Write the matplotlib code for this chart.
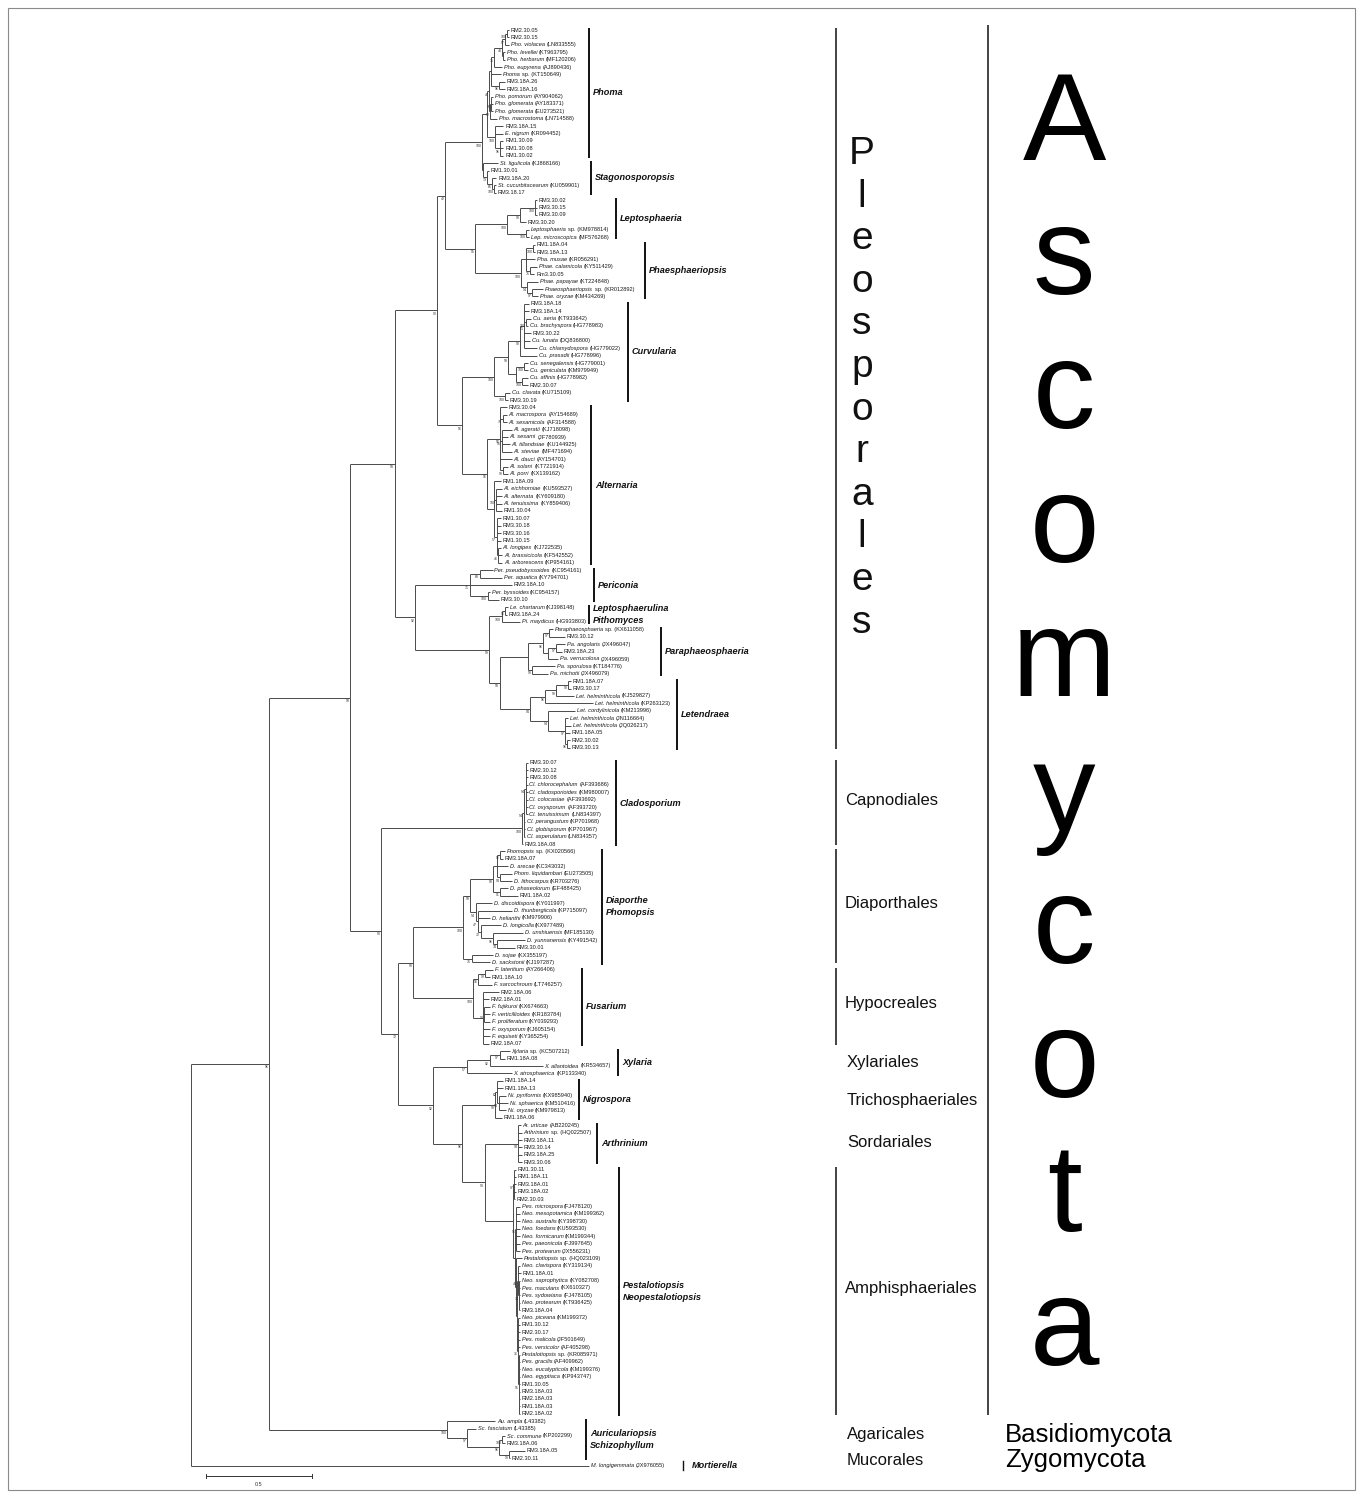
import matplotlib
matplotlib.use("Agg")
import matplotlib.pyplot as plt
from matplotlib.collections import LineCollection
from matplotlib.patches import Rectangle

plt.rcParams['font.family'] = ['Liberation Sans', 'DejaVu Sans']

# ---------------- data: clades (Newick, branch lengths in substitutions/site, node label = bootstrap) ----
PHOMA = ("((((("
         "(('RM2.30.05':0.009,'RM2.30.15':0.009)100:0.009,'Pho. violacea (LN833555)':0.019)97:0.014,"
         "('Pho. levellei (KT963795)':0.009,'Pho. herbarum (MF120206)':0.009):0.005)48:0.038,"
         "'Pho. eupyrena (AJ890436)':0.038)75:0.014,"
         "'Phoma sp. (KT150649)':0.047,"
         "('RM3.18A.26':0.028,'RM3.18A.16':0.028)96:0.038):0.009,"
         "(('Pho. pomorum (AY904062)':0.009,'Pho. glomerata (AY183371)':0.009,'Pho. glomerata (EU273521)':0.009)99:0.005,"
         "'Pho. macrostoma (LN714588)':0.033)52:0.005)46:0.009,"
         "('RM3.18A.15':0.038,'E. nigrum (KR094452)':0.038,"
         "('RM1.30.09':0.014,'RM1.30.08':0.014,'RM1.30.02':0.014)96:0.024)100:0.038):0.024")
STAGO = ("('St. ligulicola (KJ868166)':0.071,('RM1.30.01':0.009,('RM3.18A.20':0.019,"
         "('St. cucurbitacearum (KU059901)':0.009,'RM3.18.17':0.009)100:0.009)65:0.024)73:0.019):0.005")
LEPTO = ("((('RM3.30.02':0.009,'RM3.30.15':0.009,'RM3.30.09':0.009)100:0.071,'RM3.30.20':0.028)99:0.061,"
         "('Leptosphaeria sp. (KM978814)':0.014,'Lep. microscopica (MF576268)':0.014)100:0.090)100:0.151")
PHAE = ("((('RM1.18A.04':0.009,'RM3.18A.13':0.009)100:0.033,'Pha. musae (KR056291)':0.042,"
        "('Phae. calamicola (KY511429)':0.033,'Rm3.30.05':0.019)75:0.019):0.024,"
        "('Phae. papayae (KT224848)':0.052,('Phaeosphaeriopsis sp. (KR012892)':0.052,"
        "'Phae. oryzae (KM434269)':0.028)97:0.024)54:0.028)100:0.217")
CURV = ("(((('RM3.18A.18':0.024,'RM3.18A.14':0.024,('Cu. aeria (KT933642)':0.024,"
        "'Cu. brachyspora (HG778983)':0.009)100:0.009,'RM3.30.22':0.033,'Cu. lunata (DQ836800)':0.028,"
        "'Cu. chlamydospora (HG779022)':0.061)71:0.019,'Cu. prasadii (HG778996)':0.080)98:0.057,"
        "(('Cu. senegalensis (HG779001)':0.019,'Cu. geniculata (KM979949)':0.019)100:0.038,"
        "('Cu. affinis (HG778982)':0.028,'RM2.30.07':0.028)100:0.028):0.038)59:0.066,"
        "('Cu. clavata (KU715109)':0.024,'RM3.30.19':0.014)100:0.052)100:0.151")
ALT = ("(('RM3.30.04':0.033,('Al. macrospora (AY154689)':0.019,'Al. sesamicola (AF314588)':0.019)75:0.014,"
       "('Al. ageratii (KJ718098)':0.047,'Al. sesami (JF780939)':0.028,'Al. tillandsiae (KU144925)':0.038,"
       "'Al. steviae (MF471694)':0.047)95:0.009,'Al. dauci (AY154701)':0.057,"
       "('Al. solani (KT721914)':0.024,'Al. porri (KX139162)':0.024)99:0.014)56:0.061,"
       "('RM1.18A.09':0.033,('Al. eichhorniae (KU593527)':0.028,'Al. alternata (KY609180)':0.028,"
       "'Al. tenuissima (KY859406)':0.028,'RM1.30.04':0.028)100:0.009,"
       "('RM1.30.07':0.019,'RM3.30.18':0.019,'RM3.30.16':0.019,'RM1.30.15':0.019,"
       "('Al. longipes (KJ722535)':0.014,'Al. brassicicola (KF542552)':0.019,"
       "'Al. arborescens (KP954161)':0.019)46:0.005)57:0.014):0.033)56:0.118")
PERI = ("(('Per. pseudobyssoides (KC954161)':0.061,'Per. aquatica (KY794701)':0.104)68:0.047,"
        "'RM3.18A.10':0.198,('Per. byssoides (KC954157)':0.009,'RM3.30.10':0.052)100:0.085)71:0.259")
LEPTOSPH = ("(('Le. chartarum (KJ398148)':0.014,'RM3.18A.24':0.009)96:0.014,"
            "'Pi. maydicus (HG933803)':0.085)100:0.061")
PARA = ("((('Paraphaeosphaeria sp. (KX611058)':0.019,'RM3.30.12':0.075)97:0.028,"
        "(('Pa. angolaris (JX496047)':0.042,'RM3.18A.23':0.028)97:0.038,'Pa. verrucolosa (JX496059)':0.047):0.024)96:0.071,"
        "('Pa. sporulosa (KT184776)':0.108,'Pa. michotii (JX496079)':0.075)99:0.019):0.132")
LET = ("(((('RM1.18A.07':0.014,'RM3.30.17':0.014)98:0.057,'Let. helminthicola (KJ529827)':0.085)99:0.052,"
       "'Let. helminthicola (KP263123)':0.226)96:0.071,('Let. cordylinicola (KM213996)':0.127,"
       "('Let. helminthicola (JN116664)':0.014,'Let. helminthicola (JQ026217)':0.028,'RM1.18A.05':0.024,"
       "('RM2.30.02':0.014,'RM3.30.13':0.014)96:0.009)97:0.080)54:0.085)94:0.142")
CLADO = ("((('RM3.30.07':0.009,'RM2.30.12':0.009,'RM3.30.08':0.009,'Cl. chlorocephalum (AF393686)':0.009,"
         "'Cl. cladosporioides (KM980007)':0.009,'Cl. colocasiae (AF393692)':0.009,'Cl. oxysporum (AF393720)':0.009,"
         "'Cl. tenuissimum (LN834397)':0.009)54:0.009,'Cl. perangustum (KP701968)':0.005,"
         "'Cl. globisporum (KP701967)':0.005,'Cl. asperulatum (LN834357)':0.005)54:0.009,'RM3.18A.08':0.005)100:0.665")
DIAP = ("((((('Phomopsis sp. (KX020566)':0.024,'RM3.18A.07':0.014)96:0.014,'D. arecae (KC343032)':0.052,"
        "('Phom. liquidambari (EU273505)':0.057,'D. lithocarpus (KR703276)':0.057)94:0.014):0.019,"
        "('D. phaseolorum (EF488425)':0.038,'RM1.18A.02':0.085)91:0.033)99:0.108,"
        "('D. discoidispora (KY011997)':0.075,('D. thunbergiicola (KP715097)':0.160,'D. helianthi (KM979906)':0.057,"
        "('D. longicolla (KX977489)':0.094,('D. unshiuensis (MF185130)':0.142,('D. yunnanensis (KY491542)':0.132,"
        "'RM3.30.01':0.085)74:0.019)96:0.057)72:0.014)47:0.009)54:0.028)58:0.033,"
        "('D. sojae (KX355197)':0.099,'D. sackstonii (KJ197287)':0.085)75:0.042)100:0.236")
FUS = ("((('F. lateritium (AY266406)':0.038,'RM1.18A.10':0.024)93:0.033,'F. sarcochroum (LT746257)':0.066)56:0.024,"
       "('RM2.18A.06':0.075,'RM2.18A.01':0.028,('F. fujikuroi (KX674663)':0.028,'F. verticillioides (KR183784)':0.028,"
       "'F. proliferatum (KY039293)':0.028)93:0.005,'F. oxysporum (KJ605154)':0.033,'F. equiseti (KY365254)':0.033,"
       "'RM2.18A.07':0.028):0.047)100:0.283")
XYL = ("((('Xylaria sp. (KC507212)':0.047,'RM1.18A.08':0.024)97:0.047,'X. allantoidea (KR534657)':0.250)92:0.108,"
       "'X. atrosphaerica (KP133340)':0.212)57:0.160")
NIG = ("(('RM1.18A.14':0.028,'RM1.18A.13':0.028,('Ni. pyriformis (KX985940)':0.033,'Ni. sphaerica (KM510416)':0.042,"
       "'Ni. oryzae (KM979813)':0.033)54:0.009)62:0.009,'RM1.18A.06':0.033)99:0.156")
ART = ("('Ar. urticae (AB220245)':0.014,'Arthrinium sp. (HQ022507)':0.019,'RM3.18A.11':0.019,'RM3.30.14':0.019,"
       "'RM3.18A.25':0.019,'RM3.30.06':0.019)94:0.156")
PEST = ("(('RM1.30.11':0.009,'RM1.18A.11':0.009,'RM3.18A.01':0.009,'RM3.18A.02':0.009,'RM2.30.03':0.005)97:0.005,"
        "(('Pes. microspora (FJ478120)':0.019,'Neo. mesopotamica (KM199362)':0.019,'Neo. australis (KY398730)':0.019,"
        "'Neo. foedans (KU593530)':0.019,'Neo. formicarum (KM199344)':0.019,'Pes. paeonicola (FJ997645)':0.019,"
        "'Pes. protearum (JX556231)':0.019)96:0.005,('Pestalotiopsis sp. (HQ023109)':0.028,"
        "(('Neo. clavispora (KY319134)':0.009,'RM1.18A.01':0.014,('Neo. saprophytica (KY082708)':0.005,"
        "'Pes. maculans (KX610327)':0.005,'Pes. sydowiana (FJ478105)':0.005,'Neo. protearum (KT936425)':0.005,"
        "'RM3.18A.04':0.005)75:0.005)41:0.005,('Neo. piceana (KM199372)':0.009,'RM1.30.12':0.009,'RM2.30.17':0.009,"
        "'Pes. malicola (JF501649)':0.009,'Pes. versicolor (AF405298)':0.009,('Pestalotiopsis sp. (KR085971)':0.005,"
        "'Pes. gracilis (AF409962)':0.005,'Neo. eucalypticola (KM199376)':0.005,'Neo. egyptiaca (KP943747)':0.005,"
        "'RM1.30.05':0.005,'RM3.18A.03':0.005,'RM2.18A.03':0.005,'RM1.18A.03':0.005,'RM2.18A.02':0.005)95:0.005)36:0.005"
        "):0.005):0.005):0.009):0.132")
BASIDIO = ("('Au. ampla (L43382)':0.226,('Sc. fasciatum (L43385)':0.042,(('Sc. commune (KP202299)':0.014,"
           "'RM3.18A.06':0.014)100:0.014,('RM3.18A.05':0.075,'RM2.30.11':0.005)93:0.047)96:0.151)97:0.094)100:0.840")
MORT = "'M. longigemmata (JX976055)':1.877"

# backbone
P_TOP = ("(((" + PHOMA + "," + STAGO + ")100:0.175,(" + LEPTO + "," + PHAE + ")95:0.142)42:0.038,("
         + CURV + "," + ALT + ")56:0.118)93:0.198")
P_BOT = "(" + PERI + ",(" + LEPTOSPH + ",(" + PARA + "," + LET + ")50:0.052)99:0.349)92:0.094"
PLEO = "(" + P_TOP + "," + P_BOT + ")58:0.212"
SORD = ("((" + DIAP + "," + FUS + ")99:0.071,(" + XYL + ",(" + NIG + ",(" + ART + "," + PEST
        + ")93:0.108)96:0.137)92:0.165)72:0.080")
ASCO = "(" + PLEO + ",(" + CLADO + "," + SORD + ")93:0.146)58:0.382"
TREE = "((" + ASCO + "," + BASIDIO + ")96:0.368," + MORT + ");"

# clade (genus) annotations: label, first leaf, last leaf
GENERA = [
    ("Phoma", "RM2.30.05", "RM1.30.02"),
    ("Stagonosporopsis", "St. ligulicola (KJ868166)", "RM3.18.17"),
    ("Leptosphaeria", "RM3.30.02", "Lep. microscopica (MF576268)"),
    ("Phaesphaeriopsis", "RM1.18A.04", "Phae. oryzae (KM434269)"),
    ("Curvularia", "RM3.18A.18", "RM3.30.19"),
    ("Alternaria", "RM3.30.04", "Al. arborescens (KP954161)"),
    ("Periconia", "Per. pseudobyssoides (KC954161)", "RM3.30.10"),
    ("Leptosphaerulina\nPithomyces", "Le. chartarum (KJ398148)", "Pi. maydicus (HG933803)"),
    ("Paraphaeosphaeria", "Paraphaeosphaeria sp. (KX611058)", "Pa. michotii (JX496079)"),
    ("Letendraea", "RM1.18A.07", "RM3.30.13"),
    ("Cladosporium", "RM3.30.07", "RM3.18A.08"),
    ("Diaporthe\nPhomopsis", "Phomopsis sp. (KX020566)", "D. sackstonii (KJ197287)"),
    ("Fusarium", "F. lateritium (AY266406)", "RM2.18A.07"),
    ("Xylaria", "Xylaria sp. (KC507212)", "X. atrosphaerica (KP133340)"),
    ("Nigrospora", "RM1.18A.14", "RM1.18A.06"),
    ("Arthrinium", "Ar. urticae (AB220245)", "RM3.30.06"),
    ("Pestalotiopsis\nNeopestalotiopsis", "RM1.30.11", "RM2.18A.02"),
    ("Auriculariopsis\nSchizophyllum", "Au. ampla (L43382)", "RM2.30.11"),
]
ORDERS_BARRED = [
    ("Pleosporales", "RM2.30.05", "RM3.30.13"),
    ("Capnodiales", "RM3.30.07", "RM3.18A.08"),
    ("Diaporthales", "Phomopsis sp. (KX020566)", "D. sackstonii (KJ197287)"),
    ("Hypocreales", "F. lateritium (AY266406)", "RM2.18A.07"),
    ("Amphisphaeriales", "RM1.30.11", "RM2.18A.02"),
]
ORDERS_PLAIN = [
    ("Xylariales", "Xylaria sp. (KC507212)", "X. atrosphaerica (KP133340)"),
    ("Trichosphaeriales", "RM1.18A.14", "RM1.18A.06"),
    ("Sordariales", "Ar. urticae (AB220245)", "RM3.30.06"),
    ("Agaricales", "Au. ampla (L43382)", "RM2.30.11"),
    ("Mucorales", "M. longigemmata (JX976055)", "M. longigemmata (JX976055)"),
]
PHYLA_SMALL = [("Basidiomycota", "Au. ampla (L43382)", "RM2.30.11"),
               ("Zygomycota", "M. longigemmata (JX976055)", "M. longigemmata (JX976055)")]
ASCO_SPAN = ("RM2.30.05", "RM2.18A.02")
SCALE_BAR = 0.5

# ---------------- parsing & layout ----------------
def parse_newick(s):
    pos = 0

    def token():
        nonlocal pos
        if s[pos] == "'":
            j = s.index("'", pos + 1)
            t = s[pos + 1:j]
            pos = j + 1
            return t
        j = pos
        while s[j] not in ",():;":
            j += 1
        t = s[pos:j]
        pos = j
        return t

    def node():
        nonlocal pos
        n = {'children': [], 'name': None, 'support': None, 'length': 0.0}
        if s[pos] == '(':
            pos += 1
            n['children'].append(node())
            while s[pos] == ',':
                pos += 1
                n['children'].append(node())
            assert s[pos] == ')'
            pos += 1
            lab = token()
            n['support'] = lab or None
        else:
            n['name'] = token()
        if s[pos] == ':':
            pos += 1
            n['length'] = float(token())
        return n

    r = node()
    assert s[pos] == ';'
    return r


root = parse_newick(TREE)
GAP_START = 98      # an extra row is left between Pleosporales and the rest
leaves = []
internals = []


def layout(n, x0):
    n['x'] = x0 + n['length']
    if n['children']:
        for c in n['children']:
            layout(c, n['x'])
        n['y'] = 0.5 * (n['children'][0]['y'] + n['children'][-1]['y'])
        internals.append(n)
    else:
        k = len(leaves)
        n['y'] = k + (1 if k >= GAP_START else 0)
        leaves.append(n)


layout(root, 0.0)
leaf_y = {lf['name']: lf['y'] for lf in leaves}

# pixel helpers for the page layout
PX_UNIT, X0, Y0, ROW = 212.0, 191.0, 30.0, 7.4
def xp(px): return (px - X0) / PX_UNIT
def yp(py): return (py - Y0) / ROW
def dx(px): return px / PX_UNIT

W, H = 1363, 1498
fig = plt.figure(figsize=(W / 100, H / 100), dpi=100)
ax = fig.add_axes([0, 0, 1, 1])
ax.set_xlim(xp(0), xp(W))
ax.set_ylim(yp(H), yp(0))
ax.axis('off')
renderer = fig.canvas.get_renderer()

# branches
segs = []
def collect(n, parent_x=None):
    if parent_x is not None:
        segs.append([(parent_x, n['y']), (n['x'], n['y'])])
    if n['children']:
        segs.append([(n['x'], n['children'][0]['y']), (n['x'], n['children'][-1]['y'])])
        for c in n['children']:
            collect(c, n['x'])
collect(root)
ax.add_collection(LineCollection(segs, colors='#4a4a4a', linewidths=0.7, capstyle='butt'))


def split_leaf(name):
    """returns (italic part, regular part)"""
    if name.startswith(('RM', 'Rm')):
        return '', name
    sp, acc = name.split(' (', 1)
    acc = '(' + acc
    words = sp.split(' ')
    if words[-1] == 'sp.':
        return ' '.join(words[:-1]), 'sp. ' + acc
    return sp, acc


LEAF_FS = 4.1
for lf in leaves:
    x = lf['x'] + dx(1.8)
    it, reg = split_leaf(lf['name'])
    if it:
        t = ax.text(x, lf['y'], it, fontsize=LEAF_FS, fontstyle='italic', va='center', ha='left',
                    color='#1a1a1a')
        bb = t.get_window_extent(renderer)
        x = ax.transData.inverted().transform((bb.x1, bb.y0))[0] + dx(1.6)
    ax.text(x, lf['y'], reg, fontsize=LEAF_FS, va='center', ha='left', color='#1a1a1a')

for n in internals:
    if n['support'] and n is not root:
        ax.text(n['x'] - dx(0.6), n['y'] + 0.45, n['support'], fontsize=2.5,
                ha='right', va='center', color='#333333')

# genus bars & labels
GENUS_BAR_PX = [589, 591, 616, 645, 628, 591, 594, 589, 661, 677, 616, 602, 582, 618, 579, 597, 619, 586]
for (lab, a, b), bx in zip(GENERA, GENUS_BAR_PX):
    y0, y1 = leaf_y[a] - 0.3, leaf_y[b] + 0.3
    ax.plot([xp(bx), xp(bx)], [y0, y1], color='#111111', lw=1.4, solid_capstyle='butt')
    lines = lab.split('\n')
    ym = 0.5 * (y0 + y1)
    offs = [0.0] if len(lines) == 1 else [-0.8, 0.8]
    for t, o in zip(lines, offs):
        ax.text(xp(bx + 4), ym + o, t, fontsize=6.6, fontweight='bold', fontstyle='italic',
                va='center', ha='left', color='#111111')

# Mortierella
ym = leaf_y['M. longigemmata (JX976055)']
ax.plot([xp(683), xp(683)], [ym - 0.6, ym + 0.6], color='#111111', lw=1.0)
ax.text(xp(692), ym, 'Mortierella', fontsize=6.6, fontweight='bold', fontstyle='italic',
        va='center', ha='left', color='#111111')

# orders
for lab, a, b in ORDERS_BARRED:
    y0, y1 = leaf_y[a] - 0.3, leaf_y[b] + 0.1
    ax.plot([xp(836), xp(836)], [y0, y1], color='#111111', lw=1.1, solid_capstyle='butt')
    if lab == 'Pleosporales':
        for i, ch in enumerate(lab):
            ax.text(xp(862), yp(164 + 42.6 * i), ch, fontsize=28, ha='center', va='baseline', color='#111111')
    else:
        ax.text(xp(845), 0.5 * (y0 + y1) - 0.3, lab, fontsize=12, ha='left', va='center', color='#111111')
PLAIN_OFFSET = [0.0, 0.1, -0.2, -0.7, -0.7]
for (lab, a, b), off in zip(ORDERS_PLAIN, PLAIN_OFFSET):
    ym = 0.5 * (leaf_y[a] + leaf_y[b]) + off
    ax.text(xp(847), ym, lab, fontsize=12, ha='left', va='center', color='#111111')

# phyla
ya, yb = leaf_y[ASCO_SPAN[0]] - 0.7, leaf_y[ASCO_SPAN[1]] + 0.1
ax.plot([xp(988), xp(988)], [ya, yb], color='#111111', lw=1.1, solid_capstyle='butt')
for i, ch in enumerate('Ascomycota'):
    ax.text(xp(1064), yp(160 + 133.9 * i), ch, fontsize=90, ha='center', va='baseline', color='#000000')
for lab, a, b in PHYLA_SMALL:
    ym = 0.5 * (leaf_y[a] + leaf_y[b]) - 0.7
    ax.text(xp(1005), ym, lab, fontsize=18.5, ha='left', va='center', color='#000000')

# scale bar
sx0 = xp(206)
sy = yp(1476)
ax.plot([sx0, sx0 + SCALE_BAR], [sy, sy], color='#333333', lw=0.7)
for xx in (sx0, sx0 + SCALE_BAR):
    ax.plot([xx, xx], [sy - 0.3, sy + 0.3], color='#333333', lw=0.7)
ax.text(sx0 + SCALE_BAR / 2, yp(1484), str(SCALE_BAR), fontsize=4, ha='center', va='center', color='#333333')

# page frame
fig.patches.append(Rectangle((8 / W, 8 / H), (W - 16) / W, (H - 16) / H, transform=fig.transFigure,
                             fill=False, edgecolor='#8a8a8a', lw=0.8))

fig.savefig('out.png', dpi=100)
